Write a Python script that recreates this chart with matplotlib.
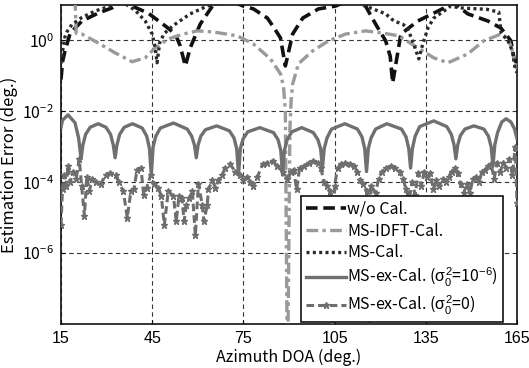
import numpy as np
import matplotlib
matplotlib.use("Agg")
import matplotlib.pyplot as plt
from matplotlib.ticker import FixedLocator, NullLocator

plt.rcParams['font.family'] = ['Noto Sans CJK JP', 'DejaVu Sans']
plt.rcParams['mathtext.fontset'] = 'custom'
plt.rcParams['mathtext.rm'] = 'Liberation Sans'
plt.rcParams['mathtext.it'] = 'Liberation Sans'
plt.rcParams['mathtext.sf'] = 'Liberation Sans'

# ---------------- data (azimuth deg, log10 error) ----------------
wo_x = [15.0, 15.5, 16.3, 18.0, 21.9, 27.2, 31.8, 35.0, 38.4, 43.7, 49.3, 52.6, 54.2, 55.9,
        57.5, 60.8, 64.8, 70.0, 75.0, 78.3, 82.9, 85.5, 87.2, 88.8, 91.2, 94.5, 99.7, 105.3,
        110.0, 115.2, 118.5, 121.8, 123.3, 124.1, 126.8, 132.4, 137.6, 142.3, 144.0, 145.6,
        148.8, 155.4, 159.7, 163.0, 164.0, 165.0]
wo_y = [-1.1, -0.6, -0.3, 0.2, 0.55, 0.77, 0.92, 1.1, 0.97, 0.77, 0.41, 0.18, -0.15, -0.72,
        -0.21, 0.46, 0.97, 1.15, 0.97, 0.89, 0.63, 0.3, 0.07, -0.72, 0.18, 0.63, 0.89, 0.97,
        1.15, 0.97, 0.46, -0.01, -0.45, -1.2, 0.18, 0.55, 0.77, 0.97, 1.05, 0.97,
        0.75, 0.55, 0.35, -0.01, -0.5, -0.65]

idft_x = [15.0, 19.0, 19.6, 20.0, 21.9, 27.2, 32.8, 38.4, 42.7, 46.0, 50.3, 55.2, 59.8, 65.1,
          73.0, 78.3, 83.9, 87.2, 88.2, 88.8, 89.5, 90.3, 90.7, 91.2, 93.1, 97.7, 103.0, 108.6,
          115.2, 120.8, 126.1, 132.4, 137.6, 142.3, 148.8, 154.1, 159.7, 162.0, 163.5, 164.7, 165.0]
idft_y = [1.3, 1.3, 1.2, 0.2, 0.18, -0.07, -0.35, -0.6, -0.49, -0.21, 0.04, 0.18, 0.27, 0.24,
          0.13, -0.1, -0.52, -0.94, -1.3, -2.0, -10.0, -2.5, -1.7, -1.23, -0.66, -0.3, -0.01, 0.18,
          0.27, 0.21, 0.13, -0.21, -0.49, -0.63, -0.38, -0.01, 0.18, 0.07, -0.3, -0.77, -0.8]

ms_x = [15.0, 15.5, 16.3, 17.0, 18.6, 21.9, 26.2, 31.2, 35.0, 39.4, 42.7, 45.0, 46.0, 46.6,
        47.5, 49.0, 51.9, 57.5, 63.1, 70.0, 90.0, 110.0, 115.2, 121.8, 124.5, 127.4, 129.0,
        131.0, 132.7, 134.0, 135.7, 137.6, 141.0, 143.2, 146.0, 150.0, 155.0, 159.0, 159.8,
        162.0, 163.5, 164.5, 165.0]
ms_y = [-0.65, -0.3, 0.1, 0.25, 0.45, 0.65, 0.83, 0.97, 1.1, 0.85, 0.55, 0.18, -0.21, -0.63,
        -0.05, 0.2, 0.42, 0.75, 0.97, 1.2, 1.3, 1.2, 0.97, 0.75, 0.55, 0.46, 0.35,
        -0.1, -0.52, -0.1, 0.35, 0.63, 0.83, 0.97, 0.92, 0.9, 0.88, 0.8, 0.2,
        0.0, -0.3, -0.85, -0.9]

ex6_x = [15.0, 15.5, 17.3, 19.6, 20.8, 21.6,
         22.2, 23.1, 24.6, 27.2, 29.8, 31.3, 32.2, 32.8,
         33.4, 34.3, 35.8, 38.5, 41.7, 43.2, 44.1, 44.7,
         45.3, 46.2, 47.7, 52.0, 56.5, 58.0, 58.9, 59.5,
         60.1, 61.0, 62.5, 66.2, 70.4, 71.9, 72.8, 73.4,
         74.0, 74.9, 76.4, 80.4, 84.9, 86.4, 87.3, 87.9,
         88.5, 89.4, 90.9, 94.2, 98.0, 99.5, 100.4, 101.0,
         101.6, 102.5, 104.0, 108.4, 112.5, 114.0, 114.9, 115.5,
         116.1, 117.0, 118.5, 122.2, 127.0, 128.5, 129.4, 130.0,
         130.6, 131.5, 133.0, 137.6, 141.9, 143.4, 144.3, 144.9,
         145.5, 146.4, 147.9, 150.8, 154.1, 155.6, 156.5, 157.1,
         157.7, 158.6, 160.0, 161.4, 163.0, 164.2, 165.0]
ex6_y = [-2.45, -2.25, -2.10, -2.32, -2.75, -3.34,
         -2.95, -2.65, -2.45, -2.35, -2.45, -2.65, -2.95, -3.31,
         -2.95, -2.65, -2.45, -2.35, -2.47, -2.70, -3.05, -3.80,
         -3.00, -2.70, -2.47, -2.33, -2.50, -2.70, -2.95, -3.31,
         -2.95, -2.70, -2.52, -2.41, -2.55, -2.75, -3.05, -3.80,
         -3.05, -2.78, -2.58, -2.46, -2.60, -2.80, -3.10, -3.80,
         -3.10, -2.80, -2.58, -2.46, -2.60, -2.80, -3.05, -3.60,
         -3.05, -2.75, -2.50, -2.35, -2.50, -2.72, -3.05, -3.70,
         -3.05, -2.75, -2.50, -2.35, -2.50, -2.72, -3.05, -3.60,
         -3.05, -2.70, -2.43, -2.27, -2.43, -2.65, -2.95, -3.34,
         -2.95, -2.68, -2.50, -2.41, -2.50, -2.70, -3.00, -3.54,
         -2.95, -2.60, -2.30, -2.21, -2.30, -2.50, -2.77]

ex0_x = [15.0, 15.5, 16.0, 16.7, 17.3, 18.0, 19.0, 20.0, 21.0, 21.8, 22.7, 23.5, 24.3, 25.3,
         26.5, 28.0, 29.7, 31.2, 33.0, 34.0, 35.5, 36.8, 38.0, 39.0, 40.0, 41.3, 42.2, 43.2,
         44.5, 45.5, 47.0, 48.0, 49.0, 50.3, 52.0, 52.9, 53.8, 54.8, 55.5, 56.2, 57.2, 58.2,
         59.2, 60.2, 61.5, 62.0, 63.1, 63.5, 64.8, 65.8, 66.8, 68.0, 69.0, 70.7, 72.3, 74.0,
         75.0, 76.3, 77.3, 78.3, 79.6, 81.3, 82.9, 84.6, 86.2, 87.9, 89.5, 90.5, 91.5, 92.5,
         93.5, 95.0, 96.5, 98.0, 99.5, 100.5, 101.5, 102.5, 103.5, 104.3, 105.0, 106.0, 107.0,
         108.5, 110.0, 111.5, 112.5, 113.5, 114.5, 115.5, 116.2, 117.0, 118.5, 119.5, 120.5,
         122.0, 123.5, 125.0, 126.5, 127.5, 128.5, 129.5, 130.5, 131.5, 132.5, 133.5, 134.5,
         135.5, 136.5, 137.5, 138.5, 139.5, 140.5, 141.5, 142.5, 143.5, 144.5, 145.5, 146.5,
         147.5, 148.5, 149.5, 150.5, 151.5, 152.5, 153.5, 154.5, 155.5, 156.5, 157.5, 158.5,
         159.5, 160.5, 161.5, 162.5, 163.5, 164.4, 165.0]
ex0_y = [-5.2, -4.2, -3.8, -4.1, -3.55, -4.0, -3.7, -3.9, -3.35, -4.1, -4.95, -3.85, -4.25, -3.9,
         -4.0, -4.05, -3.8, -3.75, -3.8, -4.0, -4.25, -5.0, -4.25, -4.2, -3.65, -3.6, -4.35, -4.15,
         -3.8, -4.05, -4.15, -4.4, -5.2, -4.25, -4.4, -5.1, -4.4, -4.45, -5.1, -4.65, -4.45, -4.25,
         -5.5, -4.05, -4.65, -5.1, -4.65, -4.2, -3.95, -4.15, -3.95, -3.8, -3.6, -3.5, -3.7, -3.8,
         -3.95, -3.85, -4.0, -4.1, -3.85, -3.5, -3.45, -3.4, -3.55, -3.7, -3.9, -3.7, -3.65, -4.2,
         -3.6, -3.55, -3.45, -3.4, -3.45, -3.6, -4.0, -4.1, -4.25, -9.0, -4.1, -3.6, -3.5,
         -3.45, -3.5, -3.55, -3.7, -3.95, -4.05, -4.25, -9.0, -4.1, -4.3, -3.9, -3.7,
         -3.6, -3.55, -3.6, -3.7, -3.9, -4.2, -4.5, -4.0, -4.35, -3.75, -4.1, -3.7,
         -3.85, -3.75, -4.2, -3.95, -4.1, -3.9, -4.0, -3.85, -3.7, -3.6, -3.75, -4.05,
         -4.3, -4.05, -4.3, -3.9, -3.85, -4.0, -3.7, -3.65, -3.55, -3.5, -3.9, -3.45,
         -3.7, -3.45, -3.6, -3.35, -3.8, -3.0, -4.6]

labels = ['w/o Cal.', 'MS-IDFT-Cal.', 'MS-Cal.',
          r'MS-ex-Cal. ($\sigma_0^2$=10$^{-6}$)', r'MS-ex-Cal. ($\sigma_0^2$=0)']
xticks = [15, 45, 75, 105, 135, 165]
yticks = [1e-6, 1e-4, 1e-2, 1e0]

# ---------------- plot ----------------
fig = plt.figure(figsize=(5.29, 3.68), dpi=100)
ax = fig.add_axes([0.1153, 0.1196, 0.862, 0.8668])

def pw(v):
    return np.power(10.0, np.asarray(v))

ax.plot(wo_x, pw(wo_y), color='#111111', lw=2.6, ls=(0, (3.2, 1.6)), label=labels[0], zorder=3)
ax.plot(idft_x, pw(idft_y), color='#9a9a9a', lw=2.4, ls=(0, (3.5, 1.3, 1.0, 1.3)), label=labels[1], zorder=3)
ax.plot(ms_x, pw(ms_y), color='#2a2a2a', lw=2.4, ls=(0, (0.9, 1.0)), label=labels[2], zorder=3)
ax.plot(ex6_x, pw(ex6_y), color='#707070', lw=2.4, ls='-', label=labels[3], zorder=3)
ax.plot(ex0_x, pw(ex0_y), color='#6e6e6e', lw=2.2, ls=(0, (2.5, 1.3)), marker='*', ms=5,
        label=labels[4], zorder=3)

ax.set_yscale('log')
ax.set_xlim(15, 165)
ax.set_ylim(1e-8, 10)
ax.xaxis.set_major_locator(FixedLocator(xticks))
ax.yaxis.set_major_locator(FixedLocator(yticks))
ax.yaxis.set_minor_locator(NullLocator())
ax.grid(True, which='major', color='#333333', ls=(0, (4, 3)), lw=0.8)
ax.tick_params(direction='in', length=3, width=0.8, labelsize=11.5, pad=5)
for lab in ax.get_xticklabels():
    lab.set_fontfamily('Liberation Sans')
for s in ax.spines.values():
    s.set_linewidth(1.2)
    s.set_color('#111111')

ax.set_xlabel('Azimuth DOA (deg.)', fontsize=11.5, labelpad=2)
ax.set_ylabel('Estimation Error (deg.)', fontsize=12, labelpad=3)

leg = ax.legend(loc='lower right', bbox_to_anchor=(0.969, 0.006), fontsize=11.5,
                frameon=True, fancybox=False, edgecolor='#111111', framealpha=1,
                handlelength=2.5, handletextpad=0.1, borderpad=0.3, labelspacing=0.3,
                borderaxespad=0)
leg.get_frame().set_linewidth(1.2)
leg.set_zorder(5)

fig.savefig('out.png', dpi=100)
